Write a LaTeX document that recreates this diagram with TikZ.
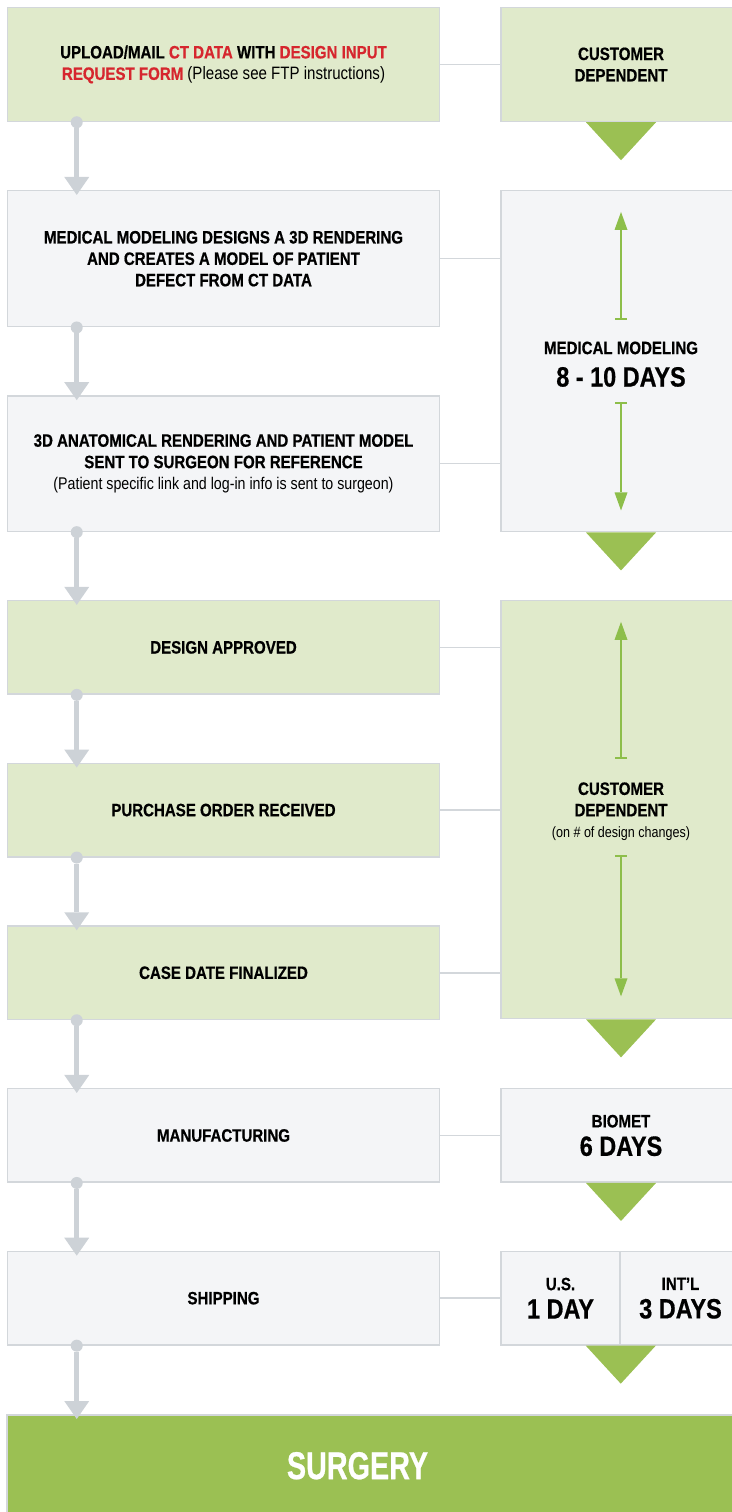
\documentclass[tikz,border=0pt]{standalone}
\usepackage{fontspec}
\setmainfont{Liberation Sans}[FakeStretch=0.84,BoldFeatures={FakeBold=0.6}]
\newfontfamily\surgeryfont{Liberation Sans}[FakeStretch=0.74,BoldFeatures={FakeBold=0.6}]
\definecolor{lightgreen}{HTML}{E0EACB}
\definecolor{palegray}{HTML}{F4F5F7}
\definecolor{boxline}{HTML}{D3D7DB}
\definecolor{flowgray}{HTML}{CDD2D7}
\definecolor{dkgreen}{HTML}{9BC053}
\definecolor{spangreen}{HTML}{8DBE4A}
\definecolor{alertred}{HTML}{D6262E}
\usetikzlibrary{positioning,arrows.meta,calc}
\newcommand\bigdays{\fontsize{28}{30}\selectfont}
\newcommand\notefont{\mdseries\fontsize{17}{20}\selectfont}
\newcommand\smallnote{\mdseries\fontsize{15}{18}\selectfont}

\begin{document}
\begin{tikzpicture}[x=1bp,y=1bp,
    every node/.style={font=\bfseries\fontsize{18}{21.5}\selectfont,align=center,inner sep=0pt},
    greenbox/.style={draw=boxline,line width=1.5bp,fill=lightgreen,minimum width=432bp},
    graybox/.style={draw=boxline,line width=1.5bp,fill=palegray,minimum width=432bp},
    sidegreen/.style={greenbox,minimum width=240bp},
    sidegray/.style={graybox,minimum width=240bp},
    finalbox/.style={draw=boxline,line width=1.5bp,fill=dkgreen,minimum width=733bp,minimum height=102bp},
    flow/.style={draw=flowgray,line width=4.5bp,
      {Circle[length=12bp,line width=0pt]}-{Triangle[width=25bp,length=18bp,line width=0pt]},
      shorten <=-6bp,shorten >=-5bp},
    link/.style={draw=boxline,line width=1.5bp},
    span/.style={draw=spangreen,line width=2bp,
      {Bar[width=12bp,line width=2bp]}-{Triangle[width=13bp,length=18bp,line width=0pt]}},
    node distance=67.7bp
    ]
    \useasboundingbox (0,0) rectangle (732,-1512);

    % the steps
    \node (upload) [greenbox,minimum height=114bp] at (223.5,-64.5)
      {UPLOAD/MAIL \textcolor{alertred}{CT DATA} WITH \textcolor{alertred}{DESIGN INPUT}\\
       \textcolor{alertred}{REQUEST FORM} {\mdseries (Please see FTP instructions)}};
    \node (design) [graybox,minimum height=136bp,below=of upload]
      {MEDICAL MODELING DESIGNS A 3D RENDERING\\AND CREATES A MODEL OF PATIENT\\DEFECT FROM CT DATA};
    \node (render) [graybox,minimum height=135.5bp,below=of design]
      {3D ANATOMICAL RENDERING AND PATIENT MODEL\\SENT TO SURGEON FOR REFERENCE\\
       {\notefont (Patient specific link and log-in info is sent to surgeon)}};
    \node (approve) [greenbox,minimum height=93.5bp,below=of render] {DESIGN APPROVED};
    \node (order) [greenbox,minimum height=93.5bp,below=of approve] {PURCHASE ORDER RECEIVED};
    \node (finalize) [greenbox,minimum height=93.5bp,below=of order] {CASE DATE FINALIZED};
    \node (manufacture) [graybox,minimum height=93.5bp,below=of finalize] {MANUFACTURING};
    \node (ship) [graybox,minimum height=93.5bp,below=of manufacture] {SHIPPING};
    \node (surgery) [finalbox,anchor=north west] at (6.25,-1414) {};
    \node (surgerytext) [text=white,font=\surgeryfont\bfseries\fontsize{39}{42}\selectfont]
      at ([xshift=-16bp]surgery.center) {SURGERY};

    % the time spans
    \node (custdep) [sidegreen,minimum height=114bp,right=60bp of upload] {CUSTOMER\\DEPENDENT};
    \node (modeling) [sidegray,anchor=north west,minimum height=341bp]
      at ([xshift=60bp]design.north east) {};
    \node (mmlabel) at ([yshift=-3bp]modeling.center) {MEDICAL MODELING\\[11bp]{\bigdays 8 - 10 DAYS}};
    \node (custdep2) [sidegreen,anchor=north west,minimum height=418bp]
      at ([xshift=60bp]approve.north east) {};
    \node (cdlabel) at ([yshift=-2bp]custdep2.center) {CUSTOMER\\DEPENDENT\\{\smallnote (on \# of design changes)}};
    \node (biomet) [sidegray,minimum height=93.5bp,right=60bp of manufacture] {BIOMET\\[7bp]{\bigdays 6 DAYS}};
    \node (us) [sidegray,minimum width=119bp,minimum height=93.5bp,right=60bp of ship] {U.S.\\[7bp]{\bigdays 1 DAY}};
    \node (intl) [sidegray,minimum width=121bp,minimum height=93.5bp,right=-1.5bp of us] {INT’L\\[7bp]{\bigdays 3 DAYS}};

    \coordinate (mmup) at ([yshift=-22bp]modeling.north);
    \coordinate (mmdown) at ([yshift=22bp]modeling.south);
    \coordinate (cdup) at ([yshift=-22bp]custdep2.north);
    \coordinate (cddown) at ([yshift=23bp]custdep2.south);

    % the edges
    \draw[flow] ([xshift=70bp]upload.south west) -- ([xshift=70bp]design.north west);
    \draw[flow] ([xshift=70bp]design.south west) -- ([xshift=70bp]render.north west);
    \draw[flow] ([xshift=70bp]render.south west) -- ([xshift=70bp]approve.north west);
    \draw[flow] ([xshift=70bp]approve.south west) -- ([xshift=70bp]order.north west);
    \draw[flow] ([xshift=70bp]order.south west) -- ([xshift=70bp]finalize.north west);
    \draw[flow] ([xshift=70bp]finalize.south west) -- ([xshift=70bp]manufacture.north west);
    \draw[flow] ([xshift=70bp]manufacture.south west) -- ([xshift=70bp]ship.north west);
    \draw[flow] ([xshift=70bp]ship.south west) -- ([xshift=70bp]ship.south west |- surgery.north);

    \draw[link] (upload) -- (custdep);
    \draw[link] (design.east) -- (design.east -| modeling.west);
    \draw[link] (render.east) -- (render.east -| modeling.west);
    \draw[link] (approve.east) -- (approve.east -| custdep2.west);
    \draw[link] (order.east) -- (order.east -| custdep2.west);
    \draw[link] (finalize.east) -- (finalize.east -| custdep2.west);
    \draw[link] (manufacture) -- (biomet);
    \draw[link] (ship) -- (us);

    \draw[span] ([yshift=21bp]mmlabel.north) -- (mmup);
    \draw[span] ([yshift=-15bp]mmlabel.south) -- (mmdown);
    \draw[span] ([yshift=23bp]cdlabel.north) -- (cdup);
    \draw[span] ([yshift=-14bp]cdlabel.south) -- (cddown);

    % the green pointers
    \fill[dkgreen] ([xshift=-35bp]custdep.south) -- ([xshift=35bp]custdep.south) -- ([yshift=-38bp]custdep.south) -- cycle;
    \fill[dkgreen] ([xshift=-35bp]modeling.south) -- ([xshift=35bp]modeling.south) -- ([yshift=-38bp]modeling.south) -- cycle;
    \fill[dkgreen] ([xshift=-35bp]custdep2.south) -- ([xshift=35bp]custdep2.south) -- ([yshift=-38bp]custdep2.south) -- cycle;
    \fill[dkgreen] ([xshift=-35bp]biomet.south) -- ([xshift=35bp]biomet.south) -- ([yshift=-38bp]biomet.south) -- cycle;
    \fill[dkgreen] ([xshift=-35bp]us.south east) -- ([xshift=35bp]us.south east) -- ([yshift=-38bp]us.south east) -- cycle;
\end{tikzpicture}
\end{document}
